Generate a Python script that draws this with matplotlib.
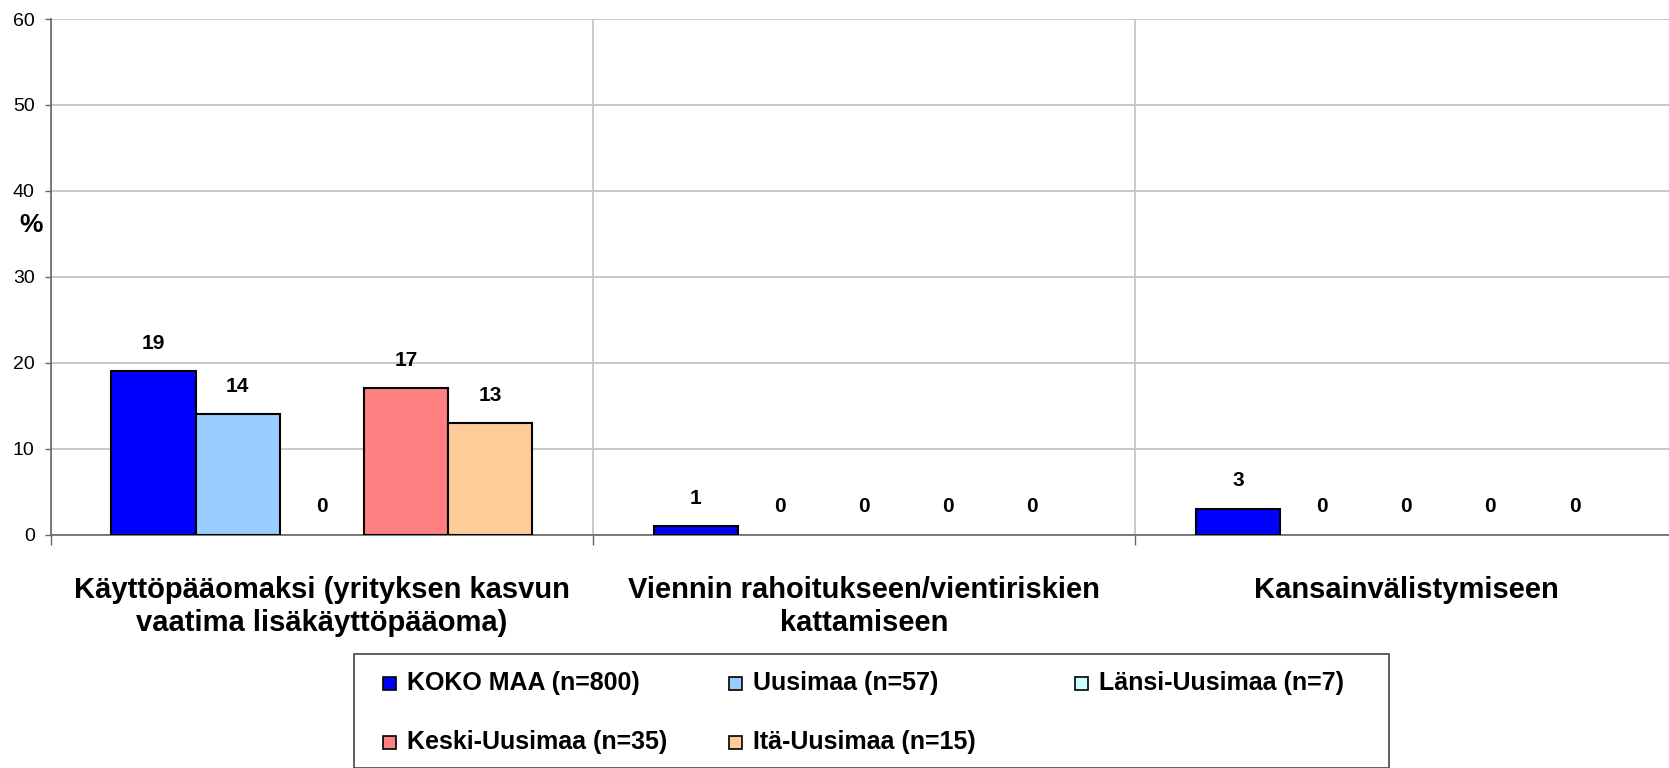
import numpy as np
import matplotlib
matplotlib.use('Agg')
import matplotlib.pyplot as plt
from matplotlib.patches import Rectangle

plt.rcParams['font.family'] = ['Liberation Sans', 'DejaVu Sans']

# data
categories = ['Käyttöpääomaksi (yrityksen kasvun\nvaatima lisäkäyttöpääoma)',
              'Viennin rahoitukseen/vientiriskien\nkattamiseen',
              'Kansainvälistymiseen']
series_names = ['KOKO MAA (n=800)', 'Uusimaa (n=57)', 'Länsi-Uusimaa (n=7)',
                'Keski-Uusimaa (n=35)', 'Itä-Uusimaa (n=15)']
koko_maa = [19, 1, 3]
uusimaa = [14, 0, 0]
lansi_uusimaa = [0, 0, 0]
keski_uusimaa = [17, 0, 0]
ita_uusimaa = [13, 0, 0]
colors = ['#0000FF', '#99CCFF', '#CCFFFF', '#FF8080', '#FFCC99']

W, H = 1669, 768
fig = plt.figure(figsize=(W / 100, H / 100), dpi=100)
fig.patch.set_facecolor('white')

# plot area runs past the right edge of the image (clipped like the original)
left, bottom, top = 50.7, 534.5, 19.0
cat_w = 542.2
ax = fig.add_axes([left / W, (H - bottom) / H, 3 * cat_w / W, (bottom - top) / H])

all_series = [koko_maa, uusimaa, lansi_uusimaa, keski_uusimaa, ita_uusimaa]
x = np.arange(len(categories))
bw = 0.1552
for k, (vals, name, col) in enumerate(zip(all_series, series_names, colors)):
    xs = x + 0.5 + (k - 2) * bw
    # zero bars get no outline (Excel draws nothing there)
    lw = [1.5 if v else 0 for v in vals]
    ax.bar(xs, vals, width=bw, color=col, edgecolor='black', linewidth=lw,
           label=name, zorder=3)
    for xi, v in zip(xs, vals):
        ax.annotate(str(v), (xi, v), xytext=(0, 20), textcoords='offset points',
                    ha='center', va='center', fontsize=15, fontweight='bold')

ax.set_xlim(0, 3)
ax.set_ylim(0, 60)
ax.set_yticks(range(0, 61, 10))
ax.tick_params(axis='y', labelsize=14, length=4.5, width=1, color='#666666', pad=7)
ax.yaxis.grid(True, color='#c0c0c0', linewidth=1.2, zorder=0)

ax.set_xticks(x + 0.5)
ax.set_xticklabels(categories, fontsize=21, fontweight='bold', linespacing=1.2)
ax.tick_params(axis='x', which='major', length=0, pad=30)
ax.set_xticks([0, 1, 2, 3], minor=True)
ax.tick_params(axis='x', which='minor', length=7, width=1, color='#666666')
ax.xaxis.grid(True, which='minor', color='#c0c0c0', linewidth=1.2, zorder=0)

for s in ['top', 'right']:
    ax.spines[s].set_visible(False)
for s in ['left', 'bottom']:
    ax.spines[s].set_color('#666666')
    ax.spines[s].set_linewidth(1.2)

fig.text(31 / W, 1 - 225 / H, '%', fontsize=19, fontweight='bold',
         ha='center', va='center')

# legend box, laid out like the Excel one (three equal columns, two rows)
fig.patches.append(Rectangle((354 / W, 0), (1389 - 354) / W, 1 - 654 / H,
                             transform=fig.transFigure, facecolor='white',
                             edgecolor='#444444', linewidth=1.2))
slots = [(383, 683), (729, 683), (1075, 683), (383, 742), (729, 742)]
for (hx, hy), name, col in zip(slots, series_names, colors):
    fig.patches.append(Rectangle((hx / W, 1 - (hy + 6.5) / H), 13 / W, 13 / H,
                                 transform=fig.transFigure, facecolor=col,
                                 edgecolor='black', linewidth=1.2))
    fig.text((hx + 24) / W, 1 - hy / H, name, fontsize=18, fontweight='bold',
             ha='left', va='center')

fig.savefig('out.png', dpi=100)
